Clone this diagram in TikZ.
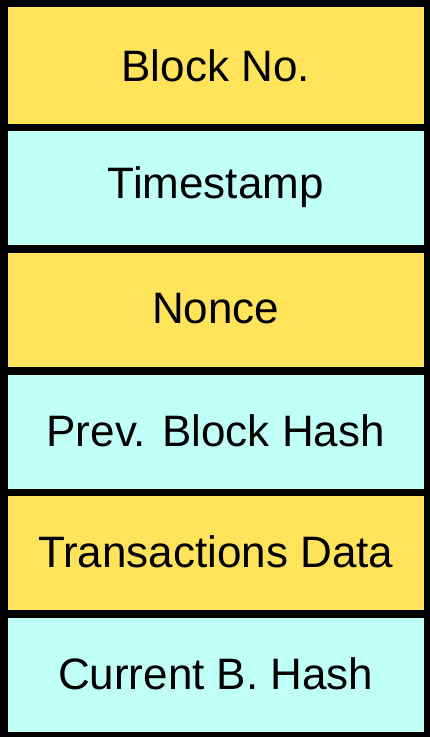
\documentclass[tikz,border=0pt]{standalone}
\usepackage{fontspec}
\setmainfont{Liberation Sans}
\definecolor{fieldyellow}{RGB}{255,227,90}
\definecolor{fieldcyan}{RGB}{192,255,246}
\begin{document}
\begin{tikzpicture}[x=1pt,y=1pt,
  field/.style={draw=black, line width=5pt, rectangle, inner sep=0pt,
    minimum width=421.5pt, minimum height=121.67pt,
    font=\fontsize{44}{50}\selectfont, text=black},
  yfield/.style={field, fill=fieldyellow},
  cfield/.style={field, fill=fieldcyan}]
\useasboundingbox (0,0) rectangle (429,-737);
% block header fields, stacked top to bottom
\node[yfield] (blockno) at (215.75,-65.33)  {Block No.};
\node[cfield] (timestamp) at (215.75,-187.0) {Timestamp};
\node[yfield] (nonce) at (215.75,-308.67) {Nonce};
\node[cfield] (prevhash) at (215.75,-430.33) {Prev. Block Hash};
\node[yfield] (txdata) at (215.75,-552.0) {Transactions Data};
\node[cfield] (currhash) at (215.75,-673.67) {Current B. Hash};
% redraw the separating lines on top so all edges are equally dark
\foreach \a/\b in {blockno/timestamp,timestamp/nonce,nonce/prevhash,prevhash/txdata,txdata/currhash}
  \draw[line width=5pt] (\a.south west) -- (\a.south east);
\draw[line width=5pt] (blockno.north west) rectangle (currhash.south east);
\end{tikzpicture}
\end{document}
